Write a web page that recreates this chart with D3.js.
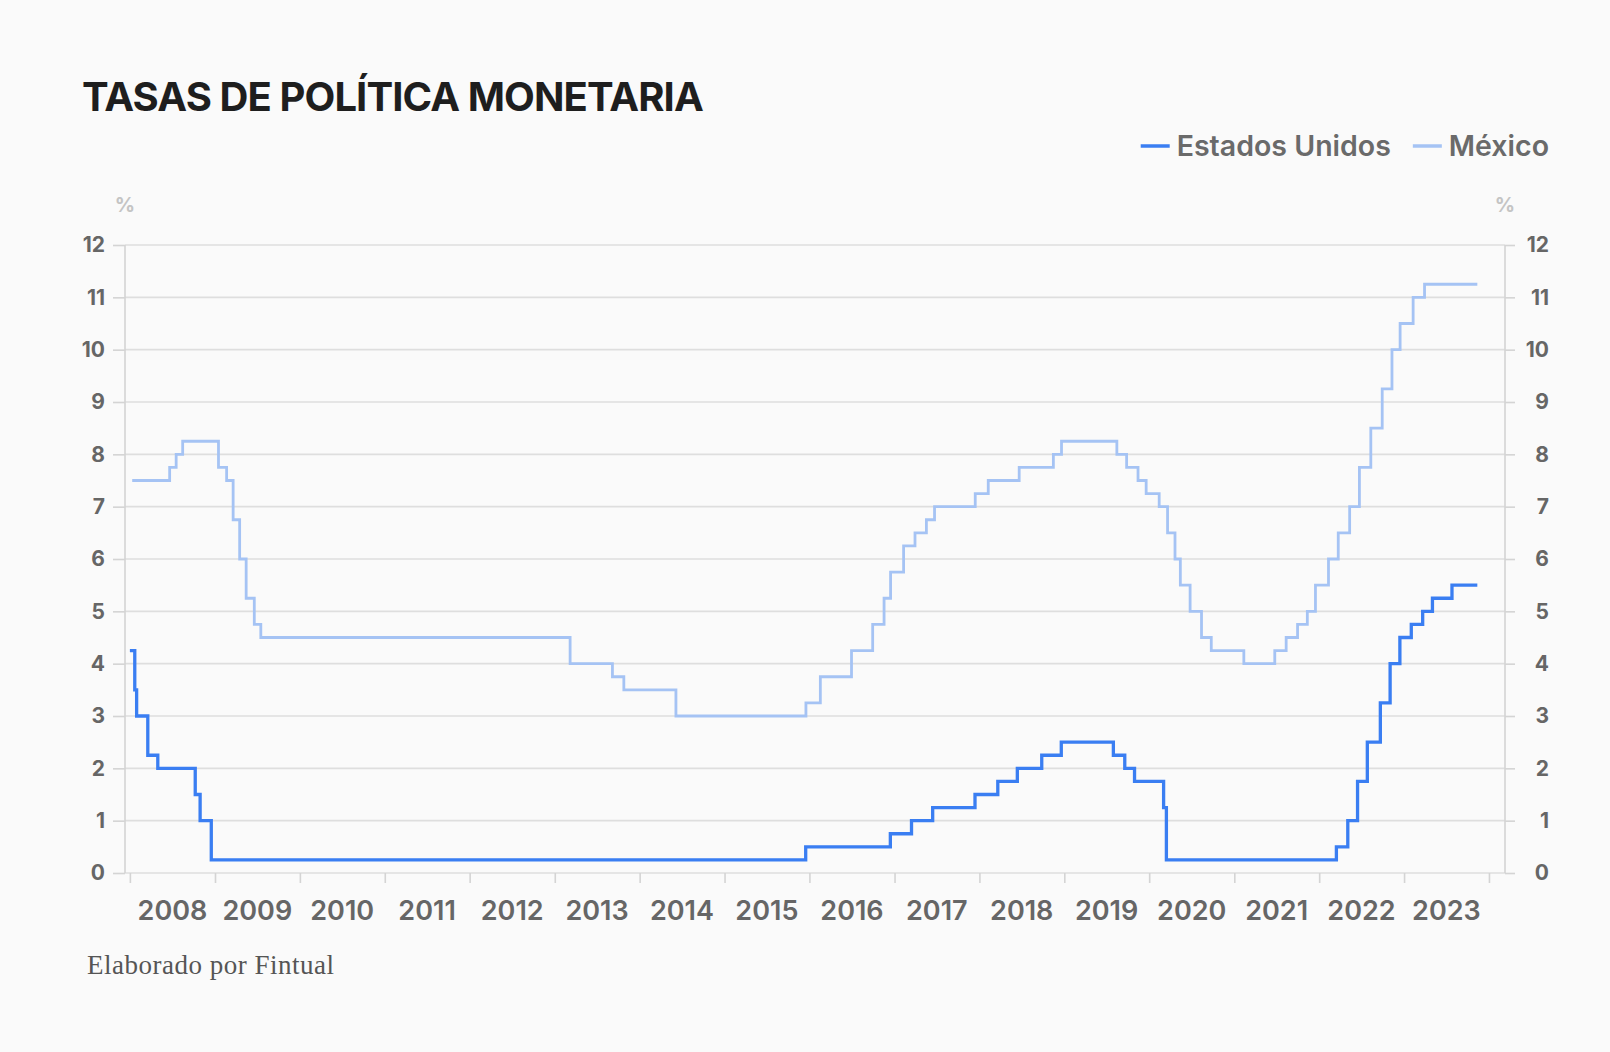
<!DOCTYPE html>
<html>
<head>
<meta charset="utf-8">
<script src="https://cdn.jsdelivr.net/npm/d3@7"></script>
<style>
  html, body { margin: 0; padding: 0; background: #fafafa; }
  svg { display: block; }
</style>
</head>
<body>
<div id="chart"></div>
<script>
// Tasas de politica monetaria: Fed (limite superior) y Banxico
var usDates = ["2008-01-01","2008-01-22","2008-01-30","2008-03-18","2008-04-30","2008-10-08","2008-10-29","2008-12-16",
  "2015-12-16","2016-12-14","2017-03-15","2017-06-14","2017-12-13","2018-03-21","2018-06-13","2018-09-26","2018-12-19",
  "2019-07-31","2019-09-18","2019-10-30","2020-03-03","2020-03-15",
  "2022-03-16","2022-05-04","2022-06-15","2022-07-27","2022-09-21","2022-11-02","2022-12-14",
  "2023-02-01","2023-03-22","2023-05-03","2023-07-26","2023-11-12"];
var usRates = [4.25,3.5,3.0,2.25,2.0,1.5,1.0,0.25,
  0.5,0.75,1.0,1.25,1.5,1.75,2.0,2.25,2.5,
  2.25,2.0,1.75,1.25,0.25,
  0.5,1.0,1.75,2.5,3.25,4.0,4.5,
  4.75,5.0,5.25,5.5,5.5];

var mxDates = ["2008-01-11","2008-06-20","2008-07-18","2008-08-15","2009-01-16","2009-02-20","2009-03-20","2009-04-17",
  "2009-05-15","2009-06-19","2009-07-17","2013-03-08","2013-09-06","2013-10-25","2014-06-06","2015-12-17",
  "2016-02-17","2016-06-30","2016-09-29","2016-11-17","2016-12-15","2017-02-09","2017-03-30","2017-05-18",
  "2017-06-22","2017-12-14","2018-02-08","2018-06-21","2018-11-15","2018-12-20","2019-08-15","2019-09-26",
  "2019-11-14","2019-12-19","2020-02-13","2020-03-20","2020-04-21","2020-05-14","2020-06-25","2020-08-13",
  "2020-09-24","2021-02-11","2021-06-24","2021-08-12","2021-09-30","2021-11-11","2021-12-16","2022-02-10",
  "2022-03-24","2022-05-12","2022-06-23","2022-08-11","2022-09-29","2022-11-10","2022-12-15","2023-02-09",
  "2023-03-30","2023-11-12"];
var mxRates = [7.5,7.75,8.0,8.25,7.75,7.5,6.75,6.0,
  5.25,4.75,4.5,4.0,3.75,3.5,3.0,3.25,
  3.75,4.25,4.75,5.25,5.75,6.25,6.5,6.75,
  7.0,7.25,7.5,7.75,8.0,8.25,8.0,7.75,
  7.5,7.25,7.0,6.5,6.0,5.5,5.0,4.5,
  4.25,4.0,4.25,4.5,4.75,5.0,5.5,6.0,
  6.5,7.0,7.75,8.5,9.25,10.0,10.5,11.0,
  11.25,11.25];

var yearLabels = ["2008","2009","2010","2011","2012","2013","2014","2015","2016","2017","2018","2019","2020","2021","2022","2023"];
var yTicks = [0,1,2,3,4,5,6,7,8,9,10,11,12];

var seriesNames = ["Estados Unidos", "México"];
var seriesColors = ["#3a7ef2", "#a5c3f4"];

var svgWidth = 1610;
var svgHeight = 1052;

var margin = { top: 245, right: 105, bottom: 179, left: 125 };
var width = svgWidth - margin.left - margin.right;
var height = svgHeight - margin.top - margin.bottom;

var parseDate = d3.timeParse("%Y-%m-%d");
var usData = usDates.map((d, i) => ({ date: parseDate(d), value: usRates[i] }));
var mxData = mxDates.map((d, i) => ({ date: parseDate(d), value: mxRates[i] }));

var svg = d3.select("#chart")
  .append("svg")
  .attr("width", svgWidth)
  .attr("height", svgHeight);

svg.append("rect")
  .attr("width", svgWidth)
  .attr("height", svgHeight)
  .attr("fill", "#fafafa");

var chartGroup = svg.append("g")
  .attr("transform", `translate(${margin.left}, ${margin.top})`);

// scales
var xTimeScale = d3.scaleTime()
  .domain([parseDate("2007-12-11"), parseDate("2024-03-10")])
  .range([0, width]);

var yLinearScale = d3.scaleLinear()
  .domain([0, 12])
  .range([height, 0]);

// gridlines
chartGroup.append("g")
  .selectAll("line")
  .data(yTicks)
  .enter()
  .append("line")
  .attr("x1", 0)
  .attr("x2", width)
  .attr("y1", d => yLinearScale(d))
  .attr("y2", d => yLinearScale(d))
  .attr("stroke", "#dedede")
  .attr("stroke-width", 1.6);

// left axis
var leftAxis = d3.axisLeft(yLinearScale).tickValues(yTicks).tickSize(12).tickPadding(8);
var gLeft = chartGroup.append("g").call(leftAxis);

// right axis (labels right aligned)
var rightAxis = d3.axisRight(yLinearScale).tickValues(yTicks).tickSize(10).tickPadding(34);
var gRight = chartGroup.append("g")
  .attr("transform", `translate(${width}, 0)`)
  .call(rightAxis);
gRight.selectAll("text").attr("text-anchor", "end");

// bottom axis: ticks at year starts, labels mid-year
var yearStarts = d3.range(2008, 2025).map(y => new Date(y, 0, 1));
var bottomAxis = d3.axisBottom(xTimeScale).tickValues(yearStarts).tickSize(10).tickFormat("");
var gBottom = chartGroup.append("g")
  .attr("transform", `translate(0, ${height})`)
  .call(bottomAxis);

chartGroup.append("g")
  .selectAll("text")
  .data(yearLabels)
  .enter()
  .append("text")
  .attr("x", d => xTimeScale(new Date(+d, 6, 2)))
  .attr("y", height + 47)
  .attr("text-anchor", "middle")
  .attr("class", "yearLabel")
  .text(d => d);

[gLeft, gRight, gBottom].forEach(function(g) {
  g.select(".domain").attr("stroke", "#d4d4d4").attr("stroke-width", 1.6);
  g.selectAll(".tick line").attr("stroke", "#d4d4d4").attr("stroke-width", 1.6);
});
gLeft.select(".domain").attr("d", `M0,0V${height}`);
gRight.select(".domain").attr("d", `M0,0V${height}`);
gBottom.select(".domain").remove();

svg.selectAll(".tick text, .yearLabel")
  .attr("font-family", "Inter, 'Open Sans', sans-serif")
  .attr("font-weight", 700)
  .attr("fill", "#666666");
gLeft.selectAll("text").attr("font-size", 21);
gRight.selectAll("text").attr("font-size", 21);
chartGroup.selectAll(".yearLabel").attr("font-size", 27).attr("font-weight", 600);

// % unit labels
[0, width].forEach(function(x) {
  chartGroup.append("text")
    .attr("x", x)
    .attr("y", -33)
    .attr("text-anchor", "middle")
    .attr("font-family", "Inter, sans-serif")
    .attr("font-size", 20)
    .attr("font-weight", 700)
    .attr("fill", "#c4c4c4")
    .text("%");
});

// lines
var stepLine = d3.line()
  .x(d => xTimeScale(d.date))
  .y(d => yLinearScale(d.value))
  .curve(d3.curveStepAfter);

chartGroup.append("path")
  .datum(mxData)
  .attr("d", stepLine)
  .attr("fill", "none")
  .attr("stroke", seriesColors[1])
  .attr("stroke-width", 2.8);

chartGroup.append("path")
  .datum(usData)
  .attr("d", stepLine)
  .attr("fill", "none")
  .attr("stroke", seriesColors[0])
  .attr("stroke-width", 3.3);

// title
svg.append("text")
  .attr("x", 82)
  .attr("y", 111)
  .attr("font-family", "Inter, sans-serif")
  .attr("font-size", 40)
  .attr("font-weight", 700)
  .attr("fill", "#1e1e1e")
  .attr("letter-spacing", -0.9)
  .text("TASAS DE POLÍTICA MONETARIA");

// legend, right aligned to 1549
var legend = svg.append("g");
var xCursor = 1549;
for (var i = seriesNames.length - 1; i >= 0; i--) {
  var t = legend.append("text")
    .attr("y", 156)
    .attr("font-family", "Inter, sans-serif")
    .attr("font-size", 28.5)
    .attr("font-weight", 600)
    .attr("fill", "#6a6a6a")
    .attr("text-anchor", "end")
    .attr("x", xCursor)
    .text(seriesNames[i]);
  var w = t.node().getComputedTextLength();
  legend.append("line")
    .attr("x1", xCursor - w - 36)
    .attr("x2", xCursor - w - 7)
    .attr("y1", 146)
    .attr("y2", 146)
    .attr("stroke", seriesColors[i])
    .attr("stroke-width", 3.5);
  xCursor = xCursor - w - 36 - 22;
}

// footnote
svg.append("text")
  .attr("x", 87)
  .attr("y", 974)
  .attr("font-family", "'Liberation Serif', 'DejaVu Serif', serif")
  .attr("font-size", 27)
  .attr("letter-spacing", 0.5)
  .attr("fill", "#555555")
  .text("Elaborado por Fintual");
</script>
</body>
</html>
